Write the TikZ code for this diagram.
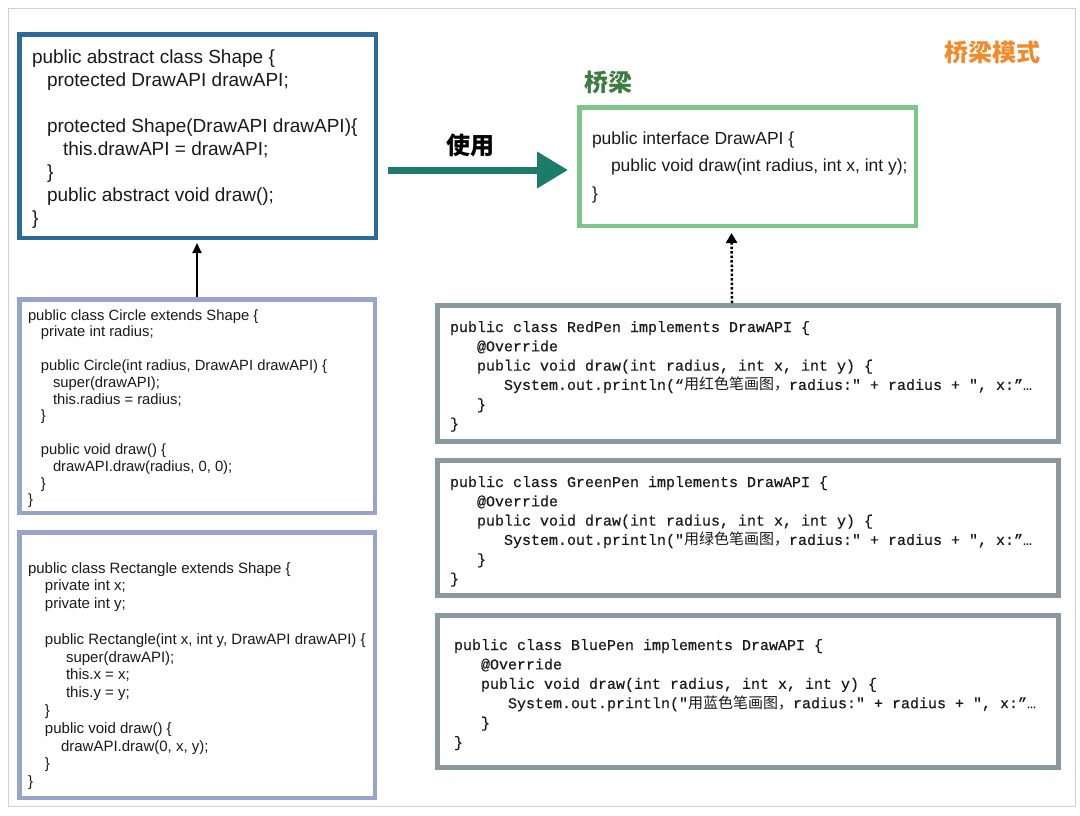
\documentclass[tikz,border=0pt]{standalone}
\usepackage{fontspec}
\setmainfont{Liberation Sans}
\setmonofont{Liberation Mono}[FakeBold=0.4]
\newfontfamily\cjk{Noto Sans CJK SC}
\usetikzlibrary{arrows.meta,calc}
\definecolor{shapeblue}{HTML}{2C6A99}
\definecolor{bridgegreen}{HTML}{7CC68A}
\definecolor{lavender}{HTML}{97A5CB}
\definecolor{pengray}{HTML}{8A999D}
\definecolor{arrowteal}{HTML}{1D7B6B}
\definecolor{titleorange}{HTML}{F2892B}
\definecolor{labelgreen}{HTML}{3C7C3F}
\definecolor{framegray}{HTML}{D0D0D0}
\definecolor{codeink}{HTML}{1A1A1A}
\newcommand{\codelines}[4]{\begin{minipage}[t]{#1}\fontsize{#2}{#3}\selectfont #4\end{minipage}}
\tikzset{
  box/.style={draw, rectangle, inner sep=0pt},
  shapebox/.style={box, draw=shapeblue, line width=4.5pt},
  bridgebox/.style={box, draw=bridgegreen, line width=4.5pt},
  subbox/.style={box, draw=lavender, line width=4.5pt},
  penbox/.style={box, draw=pengray, line width=5pt},
  code/.style={anchor=base west, inner sep=0pt, outer sep=0pt, text=codeink},
  cjklabel/.style={font=\cjk\bfseries\fontsize{24}{28}\selectfont, inner sep=0pt},
  usearrow/.style={draw=arrowteal, line width=7pt, -{Triangle[length=31pt,width=35pt]}},
  inheritarrow/.style={draw=black, line width=2pt, -{Triangle[length=10pt,width=9pt]}},
  implarrow/.style={draw=black, line width=2.5pt, dash pattern=on 2.5pt off 2pt, -{Triangle[length=10pt,width=11pt]}},
}
\begin{document}
\begin{tikzpicture}[x=1pt,y=-1pt]
\useasboundingbox (0,0) rectangle (1080,815);
\fill[white] (0,0) rectangle (1080,815);
\node[draw=framegray, line width=1pt, minimum width=1067pt, minimum height=798pt, inner sep=0pt] (frame) at (541.5,407) {};

% boxes
\node[shapebox, minimum width=356.5pt, minimum height=203.5pt] (shape) at (197.5,136) {};
\node[bridgebox, minimum width=336.5pt, minimum height=118.5pt] (green) at (747.5,166.5) {};
\node[subbox, minimum width=355.5pt, minimum height=213.5pt] (circle) at (197,406) {};
\node[subbox, minimum width=355.5pt, minimum height=265.5pt] (rect) at (197,665) {};
\node[penbox, minimum width=621pt, minimum height=136pt] (redpen) at (748,373.5) {};
\node[penbox, minimum width=621pt, minimum height=135pt] (greenpen) at (748,528) {};
\node[penbox, minimum width=621pt, minimum height=152pt] (bluepen) at (748,691.5) {};

% labels
\node[cjklabel, text=titleorange] (title) at (992,52) {桥梁模式};
\node[cjklabel, text=labelgreen] (bridgelabel) at (608,82) {桥梁};
\node[cjklabel, text=black] (uselabel) at (470,145) {使用};

% code texts
\node[code] (shapecode) at (32,63.3) {\codelines{340pt}{19}{23}{%
public abstract class Shape \{\\
\hspace*{15pt}protected DrawAPI drawAPI;\\
\mbox{}\\
\hspace*{15pt}protected Shape(DrawAPI drawAPI)\{\\
\hspace*{31pt}this.drawAPI = drawAPI;\\
\hspace*{15pt}\}\\
\hspace*{15pt}public abstract void draw();\\
\}}};

\node[code] (greencode) at (592,144) {\codelines{320pt}{17.5}{27.7}{%
public interface DrawAPI \{\\
\hspace*{19pt}public void draw(int radius, int x, int y);\\
\}}};

\node[code] (circlecode) at (28,320) {\codelines{345pt}{14.8}{16.8}{%
public class Circle extends Shape \{\\
\hspace*{13pt}private int radius;\\
\mbox{}\\
\hspace*{13pt}public Circle(int radius, DrawAPI drawAPI) \{\\
\hspace*{25pt}super(drawAPI);\\
\hspace*{25pt}this.radius = radius;\\
\hspace*{13pt}\}\\
\mbox{}\\
\hspace*{13pt}public void draw() \{\\
\hspace*{25pt}drawAPI.draw(radius, 0, 0);\\
\hspace*{13pt}\}\\
\}}};

\node[code] (rectcode) at (28,573) {\codelines{345pt}{15}{17.8}{%
public class Rectangle extends Shape \{\\
\hspace*{17pt}private int x;\\
\hspace*{17pt}private int y;\\
\mbox{}\\
\hspace*{17pt}public Rectangle(int x, int y, DrawAPI drawAPI) \{\\
\hspace*{38pt}super(drawAPI);\\
\hspace*{38pt}this.x = x;\\
\hspace*{38pt}this.y = y;\\
\hspace*{17pt}\}\\
\hspace*{17pt}public void draw() \{\\
\hspace*{33pt}drawAPI.draw(0, x, y);\\
\hspace*{17pt}\}\\
\}}};

\node[code] (redcode) at (450,332) {\codelines{605pt}{15}{19.3}{\ttfamily
public class RedPen implements DrawAPI \{\\
\hspace*{27pt}@Override\\
\hspace*{27pt}public void draw(int radius, int x, int y) \{\\
\hspace*{54pt}System.out.println(“{\cjk 用红色笔画图，}radius:" + radius + ", x:”…\\
\hspace*{27pt}\}\\
\}}};

\node[code] (greenpencode) at (450,487) {\codelines{605pt}{15}{19.3}{\ttfamily
public class GreenPen implements DrawAPI \{\\
\hspace*{27pt}@Override\\
\hspace*{27pt}public void draw(int radius, int x, int y) \{\\
\hspace*{54pt}System.out.println("{\cjk 用绿色笔画图，}radius:" + radius + ", x:”…\\
\hspace*{27pt}\}\\
\}}};

\node[code] (bluecode) at (454,650) {\codelines{600pt}{15}{19.4}{\ttfamily
public class BluePen implements DrawAPI \{\\
\hspace*{27pt}@Override\\
\hspace*{27pt}public void draw(int radius, int x, int y) \{\\
\hspace*{54pt}System.out.println("{\cjk 用蓝色笔画图，}radius:" + radius + ", x:”…\\
\hspace*{27pt}\}\\
\}}};

% connectors
\coordinate (uselevel) at (0,170);
\draw[usearrow] ($(shape.east |- uselevel)+(10,0)$) -- ($(green.west |- uselevel)+(-9,0)$);
\draw[inheritarrow, shorten >=3pt] (circle.north) -- (circle.north |- shape.south);
\draw[implarrow, shorten >=5pt] ([xshift=-16pt]redpen.north) -- ([xshift=-16pt]green.south);
\end{tikzpicture}
\end{document}
